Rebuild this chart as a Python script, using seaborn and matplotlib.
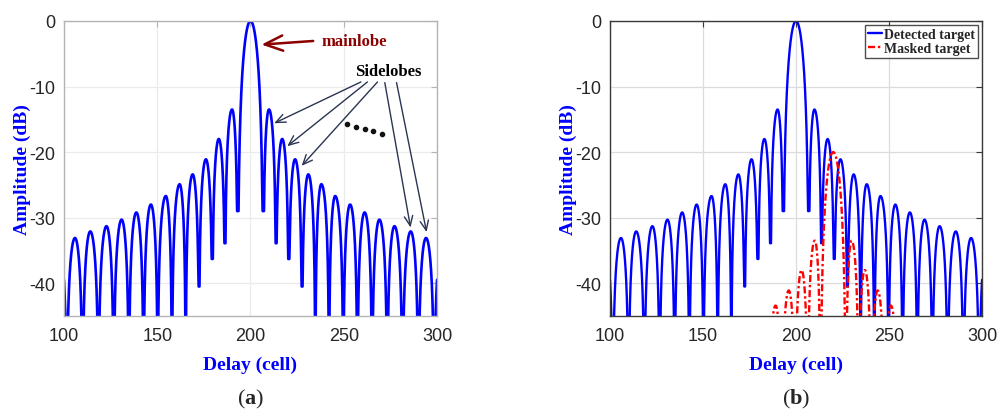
import numpy as np
import pandas as pd
import matplotlib
matplotlib.use("Agg")
import matplotlib.pyplot as plt
import seaborn as sns

# ---------------- data ----------------
center_delay = 200.0            # detected target position (cell)
masked_delay = 220.0            # masked target position (cell)
masked_level = -20.0            # masked target peak (dB)

# lobe peaks: offset from target (cells) and level (dB); index 0 = mainlobe
peak_offset = [0.0, 9.9, 17.0, 23.9, 31.0, 38.0, 45.4, 53.4, 61.2, 69.1, 77.2, 85.9, 94.1, 102.7]
peak_level = [0.0, -13.5, -18.0, -21.1, -23.4, -24.9, -26.7, -28.0, -29.2, -30.3, -31.3, -32.1, -33.1, -34.0]
# nulls after each lobe: offset (cells) and sampled depth (dB)
null_offset = [6.9, 13.65, 20.45, 27.6, 34.75, 42.1, 49.75, 57.3, 65.2, 73.3, 81.5, 90.0, 98.5, 107.0]
null_depth = [-29.0, -33.9, -36.3, -40.5, -70, -70, -70, -70, -70, -70, -70, -70, -70, -70]

x_ticks = [100, 150, 200, 250, 300]
y_ticks = [0, -10, -20, -30, -40]


def lobe_response(delay, center, level_shift):
    """Render the lobe pattern from the read peak/null tables."""
    d = np.abs(np.asarray(delay) - center)
    out = np.full(d.shape, -100.0)
    starts = [0.0] + null_offset[:-1]
    for i, (a, b) in enumerate(zip(starts, null_offset)):
        p = peak_offset[i]
        m = (d >= a) & (d <= b)
        if i == 0:
            t = 0.5 + 0.5 * (d[m] - a) / (b - a)
            shape = np.sin(np.pi * t) ** 1.5
        else:
            dd = d[m]
            t = np.where(dd < p, 0.5 * (dd - a) / (p - a), 0.5 + 0.5 * (dd - p) / (b - p))
            shape = np.sin(np.pi * t)
        out[m] = peak_level[i] + 20 * np.log10(np.maximum(shape, 1e-6))
    for n, dep in zip(null_offset, null_depth):
        m = np.abs(d - n) < 1.0
        out[m] = np.maximum(out[m], dep)
    return np.maximum(out + level_shift, -100.0)


delay = np.linspace(100, 300, 8001)
detected = lobe_response(delay, center_delay, 0.0)
masked = lobe_response(delay, masked_delay, masked_level)

df_a = pd.DataFrame({"Delay": delay, "Amplitude": detected, "Series": "Detected target"})
df_b = pd.concat([
    df_a,
    pd.DataFrame({"Delay": delay, "Amplitude": masked, "Series": "Masked target"}),
])

# ---------------- styling ----------------
sns.set_style("white")
plt.rcParams["font.family"] = ["Liberation Sans", "DejaVu Sans"]
plt.rcParams["axes.unicode_minus"] = False
plt.rcParams["mathtext.fontset"] = "custom"
plt.rcParams["mathtext.rm"] = "Liberation Serif"
plt.rcParams["mathtext.bf"] = "Liberation Serif:bold"

SERIF = ["Liberation Serif", "DejaVu Serif"]
BLUE = "#0000ff"

fig = plt.figure(figsize=(9.98, 4.14), dpi=100)
ax_a = fig.add_axes([0.0641, 0.2343, 0.3738, 0.7126])
ax_b = fig.add_axes([0.6112, 0.2343, 0.3728, 0.7126])

sns.lineplot(data=df_a, x="Delay", y="Amplitude", ax=ax_a, color=BLUE, lw=1.9,
             estimator=None, sort=False, legend=False)
sns.lineplot(data=df_b, x="Delay", y="Amplitude", hue="Series", style="Series",
             palette={"Detected target": BLUE, "Masked target": "#ff0000"},
             dashes={"Detected target": "", "Masked target": (3.0, 1.2, 1.0, 1.2)},
             ax=ax_b, lw=1.7, estimator=None, sort=False)

for ax, spine_col, grid_col in [(ax_a, "#b4b4b4", "#ebebeb"), (ax_b, "#3a3a3a", "#dcdcdc")]:
    ax.set_xlim(100, 300)
    ax.set_ylim(-45, 0)
    ax.set_xticks(x_ticks)
    ax.set_yticks(y_ticks)
    ax.set_xticklabels([str(v) for v in x_ticks])
    ax.set_yticklabels([str(v) for v in y_ticks])
    ax.grid(True, color=grid_col, lw=0.9)
    ax.set_axisbelow(True)
    for s in ax.spines.values():
        s.set_color(spine_col)
        s.set_linewidth(1.0)
    ax.tick_params(direction="in", length=4, width=0.8, top=True, right=True,
                   colors=spine_col, labelcolor="#262626", labelsize=13)
    ax.tick_params(axis="x", pad=8)
    ax.tick_params(axis="y", pad=6)
    ax.set_xlabel("Delay (cell)", fontsize=14, fontweight="bold", color=BLUE,
                  family=SERIF, labelpad=8)
    ax.set_ylabel("Amplitude (dB)", fontsize=14, fontweight="bold", color=BLUE,
                  family=SERIF, labelpad=-1)

leg = ax_b.legend(loc="upper right", prop={"family": SERIF, "weight": "bold", "size": 10},
                  frameon=True, fancybox=False, edgecolor="#222222", handlelength=1.0,
                  handletextpad=0.15, borderpad=0.2, labelspacing=0.1, borderaxespad=0.3)
leg.get_frame().set_linewidth(1.0)

# ---------------- annotations on panel (a) ----------------
ax_a.text(238.3, -3.1, "mainlobe", color="#8b0000", fontsize=12, fontweight="bold",
          family=SERIF, va="center", ha="left")
ax_a.annotate("", xy=(205.9, -3.6), xytext=(233.6, -3.05),
              arrowprops=dict(arrowstyle="->,head_length=1.3,head_width=0.55",
                              color="#8b0000", lw=1.8, shrinkA=0, shrinkB=0))
ax_a.text(274.1, -7.6, "Sidelobes", color="black", fontsize=12, fontweight="bold",
          family=SERIF, va="center", ha="center")
arrow_pairs = [((259.2, -9.3), (212.7, -15.6)),
               ((262.7, -9.3), (219.7, -19.1)),
               ((268.1, -9.3), (227.4, -22.1)),
               ((272.0, -9.4), (285.8, -31.5)),
               ((278.3, -9.4), (294.4, -32.2))]
for tail, tip in arrow_pairs:
    ax_a.annotate("", xy=tip, xytext=tail,
                  arrowprops=dict(arrowstyle="->,head_length=0.7,head_width=0.3",
                                  color="#2b3553", lw=1.0, shrinkA=0, shrinkB=0))
dots_x = [251.5, 256.5, 261.3, 265.8, 270.6]
dots_y = [-15.7, -16.1, -16.5, -16.8, -17.2]
ax_a.plot(dots_x, dots_y, ls="none", marker="o", ms=3.0, color="#111111")

# ---------------- captions ----------------
fig.text(0.2510, 0.035, r"($\mathbf{a}$)", ha="center", va="center", fontsize=16, family=SERIF)
fig.text(0.7976, 0.035, r"($\mathbf{b}$)", ha="center", va="center", fontsize=16, family=SERIF)

fig.savefig("out.png", dpi=100)
